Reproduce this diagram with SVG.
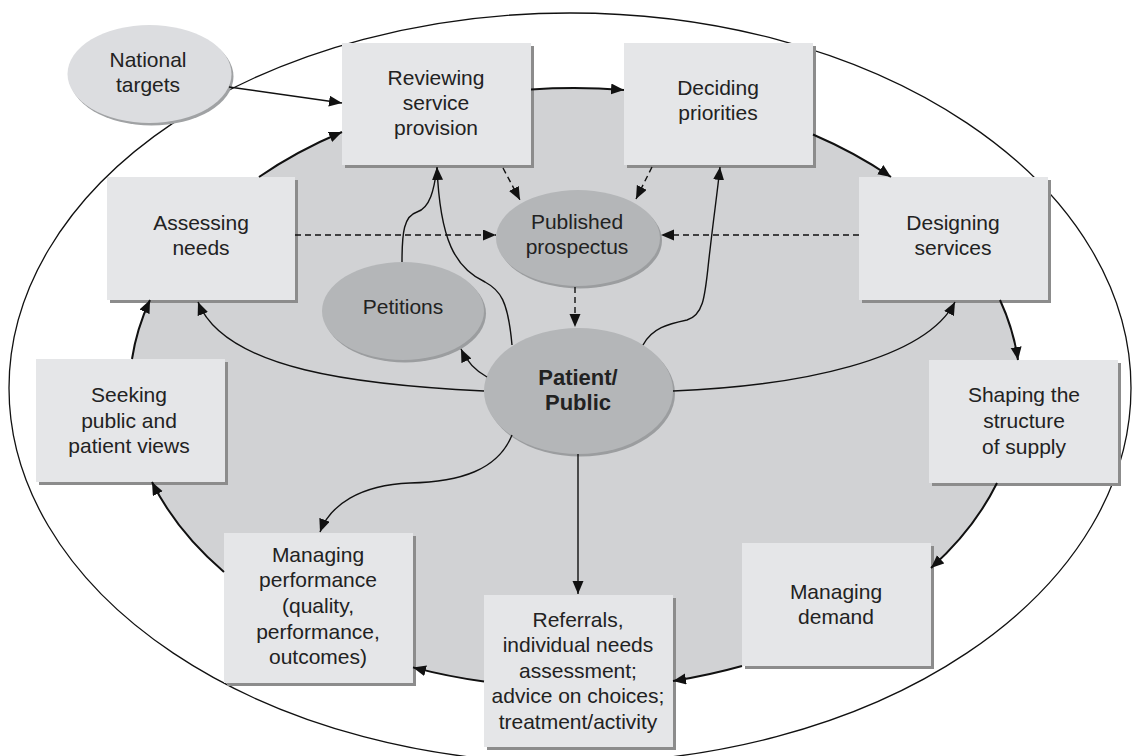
<svg xmlns="http://www.w3.org/2000/svg" width="1132" height="756" viewBox="0 0 1132 756">
<defs>
<marker id="ah" markerUnits="userSpaceOnUse" markerWidth="14" markerHeight="12" refX="13" refY="5.5" orient="auto">
<path d="M0,0 L13,5.5 L0,11 z" fill="#111"/>
</marker>
</defs>
<style>
.box{fill:#e5e6e8}
.bsh{fill:#8c8c8c}
.node{fill:#b4b6b8}
.esh{fill:#9b9d9f}
.t{font-family:"Liberation Sans",Arial,sans-serif;font-size:21px;fill:#222;text-anchor:middle}
.tb{font-weight:bold;font-size:22px}
.c{fill:none;stroke:#111;stroke-width:1.4}
.cyc{fill:none;stroke:#111;stroke-width:2}
.d{fill:none;stroke:#111;stroke-width:1.4;stroke-dasharray:6,4}
</style>
<rect width="1132" height="756" fill="#ffffff"/>
<g id="background">
<ellipse cx="570" cy="388" rx="561" ry="375" fill="none" stroke="#111" stroke-width="1.3"/>
<ellipse cx="575" cy="388" rx="445" ry="300" fill="#d1d2d4"/>
</g>
<g id="national-targets">
<ellipse cx="151.5" cy="76.5" rx="82" ry="49" fill="#a0a2a4"/>
<ellipse cx="149.5" cy="74" rx="82" ry="49" fill="#dcdde0"/>
<text class="t" x="148" y="67">National</text>
<text class="t" x="148" y="92">targets</text>
</g>
<g id="reviewing">
<rect x="345" y="46" width="189" height="122" class="bsh"/>
<rect x="342" y="43" width="189" height="122" class="box"/>
<text class="t" x="436" y="85">Reviewing</text>
<text class="t" x="436" y="110">service</text>
<text class="t" x="436" y="135">provision</text>
</g>
<g id="deciding">
<rect x="627" y="46" width="189" height="122" class="bsh"/>
<rect x="624" y="43" width="189" height="122" class="box"/>
<text class="t" x="718" y="95">Deciding</text>
<text class="t" x="718" y="120">priorities</text>
</g>
<g id="assessing">
<rect x="110" y="180" width="188" height="123" class="bsh"/>
<rect x="107" y="177" width="188" height="123" class="box"/>
<text class="t" x="201" y="230">Assessing</text>
<text class="t" x="201" y="255">needs</text>
</g>
<g id="designing">
<rect x="862" y="180" width="189" height="123" class="bsh"/>
<rect x="859" y="177" width="189" height="123" class="box"/>
<text class="t" x="953" y="230">Designing</text>
<text class="t" x="953" y="255">services</text>
</g>
<g id="seeking">
<rect x="39" y="362" width="189" height="123" class="bsh"/>
<rect x="36" y="359" width="189" height="123" class="box"/>
<text class="t" x="129" y="402">Seeking</text>
<text class="t" x="129" y="428">public and</text>
<text class="t" x="129" y="453">patient views</text>
</g>
<g id="shaping">
<rect x="932" y="363" width="189" height="123" class="bsh"/>
<rect x="929" y="360" width="189" height="123" class="box"/>
<text class="t" x="1024" y="402">Shaping the</text>
<text class="t" x="1024" y="428">structure</text>
<text class="t" x="1024" y="454">of supply</text>
</g>
<g id="managing-demand">
<rect x="745" y="546" width="189" height="123" class="bsh"/>
<rect x="742" y="543" width="189" height="123" class="box"/>
<text class="t" x="836" y="599">Managing</text>
<text class="t" x="836" y="624">demand</text>
</g>
<g id="referrals">
<rect x="487" y="598" width="189" height="152" class="bsh"/>
<rect x="484" y="595" width="189" height="152" class="box"/>
<text class="t" x="578" y="627">Referrals,</text>
<text class="t" x="578" y="652">individual needs</text>
<text class="t" x="578" y="678">assessment;</text>
<text class="t" x="578" y="703">advice on choices;</text>
<text class="t" x="578" y="729">treatment/activity</text>
</g>
<g id="managing-performance">
<rect x="227" y="536" width="189" height="150" class="bsh"/>
<rect x="224" y="533" width="189" height="150" class="box"/>
<text class="t" x="318" y="562">Managing</text>
<text class="t" x="318" y="587">performance</text>
<text class="t" x="318" y="613">(quality,</text>
<text class="t" x="318" y="639">performance,</text>
<text class="t" x="318" y="664">outcomes)</text>
</g>
<g id="published-prospectus">
<ellipse cx="580" cy="240.5" rx="82" ry="48" class="esh"/>
<ellipse cx="578" cy="238" rx="82" ry="48" class="node"/>
<text class="t" x="577" y="229">Published</text>
<text class="t" x="577" y="254">prospectus</text>
</g>
<g id="petitions">
<ellipse cx="405" cy="313.5" rx="81" ry="49" class="esh"/>
<ellipse cx="403" cy="311" rx="81" ry="49" class="node"/>
<text class="t" x="403" y="314">Petitions</text>
</g>
<g id="patient-public">
<ellipse cx="580.5" cy="393.5" rx="94.5" ry="63" class="esh"/>
<ellipse cx="578.5" cy="391" rx="94.5" ry="63" class="node"/>
<text class="t tb" x="578" y="385">Patient/</text>
<text class="t tb" x="578" y="410">Public</text>
</g>
<g id="connectors">
<path class="cyc" marker-end="url(#ah)" d="M259,177 A445,300 0 0 1 342,132"/>
<path class="cyc" marker-end="url(#ah)" d="M531,89.5 A445,300 0 0 1 624,90"/>
<path class="cyc" marker-end="url(#ah)" d="M813,134.5 A445,300 0 0 1 891,177"/>
<path class="cyc" marker-end="url(#ah)" d="M1000,300 A445,300 0 0 1 1018,360"/>
<path class="cyc" marker-end="url(#ah)" d="M997,483 A445,300 0 0 1 931,568"/>
<path class="cyc" marker-end="url(#ah)" d="M742,666 A445,300 0 0 1 673,681"/>
<path class="cyc" marker-end="url(#ah)" d="M484,681.6 A445,300 0 0 1 413,667.4"/>
<path class="cyc" marker-end="url(#ah)" d="M224,572 A445,300 0 0 1 152,482"/>
<path class="cyc" marker-end="url(#ah)" d="M132,359 A445,300 0 0 1 150,300"/>
<path class="c" marker-end="url(#ah)" d="M229,87 L342,103"/>
<path class="d" marker-end="url(#ah)" d="M503,168 L520,200"/>
<path class="d" marker-end="url(#ah)" d="M652,167 L636,199"/>
<path class="d" marker-end="url(#ah)" d="M295,235 L496,235"/>
<path class="d" marker-end="url(#ah)" d="M859,235 L661,235"/>
<path class="d" marker-end="url(#ah)" d="M575,287 L575,327"/>
<path class="c" marker-end="url(#ah)" d="M487,377 C476,371 467,362 461,349"/>
<path class="c" marker-end="url(#ah)" d="M484,391 C360,385 225,370 198,302"/>
<path class="c" marker-end="url(#ah)" d="M673,391 C800,386 925,360 955,302"/>
<path class="c" marker-end="url(#ah)" d="M512,345 C508,300 500,290 485,282 C455,268 440,240 437,167"/>
<path class="c" d="M402,262 C402,232 404,216 417,212 C430,208 434,190 437,168"/>
<path class="c" marker-end="url(#ah)" d="M643,345 C652,328 668,324 687,320 C706,314 705,290 710,250 C714,215 717,195 720,167"/>
<path class="c" marker-end="url(#ah)" d="M512,435 C498,470 460,482 410,483 C360,485 330,505 320,532"/>
<path class="c" marker-end="url(#ah)" d="M578,454 L578,594"/>
</g>
</svg>
